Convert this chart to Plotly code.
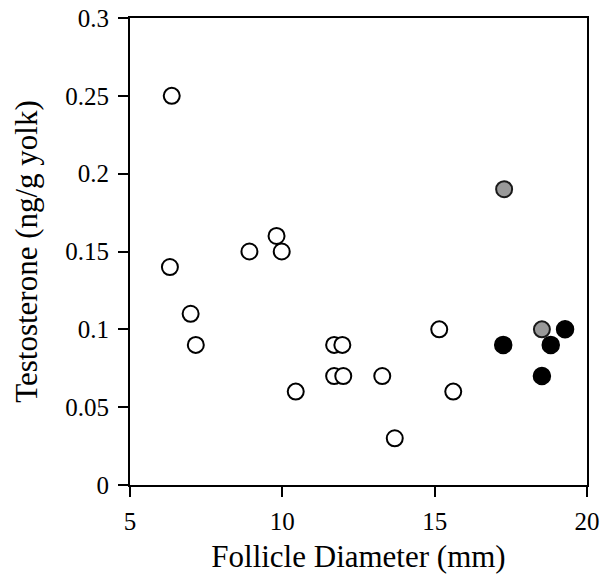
import plotly.graph_objects as go

# open circles
open_x = [6.37, 6.31, 6.99, 7.16, 8.92, 9.81, 9.98, 10.44, 11.70, 11.97, 11.70, 12.00,
          13.28, 13.69, 15.15, 15.61]
open_y = [0.25, 0.14, 0.11, 0.09, 0.15, 0.16, 0.15, 0.06, 0.09, 0.09, 0.07, 0.07,
          0.07, 0.03, 0.10, 0.06]

# grey circles
grey_x = [17.28, 18.52]
grey_y = [0.19, 0.10]

# black circles
black_x = [17.25, 18.81, 19.28, 18.52]
black_y = [0.09, 0.09, 0.10, 0.07]

x_ticks = [5, 10, 15, 20]
y_ticks = [0, 0.05, 0.1, 0.15, 0.2, 0.25, 0.3]
y_labels = ["0", "0.05", "0.1", "0.15", "0.2", "0.25", "0.3"]

font = "Liberation Serif, Times New Roman, serif"

fig = go.Figure()

fig.add_trace(go.Scatter(
    x=open_x, y=open_y, mode="markers",
    marker=dict(size=16, color="white", line=dict(color="black", width=2)),
    showlegend=False
))
fig.add_trace(go.Scatter(
    x=grey_x, y=grey_y, mode="markers",
    marker=dict(size=16, color="#999999", line=dict(color="#1a1a1a", width=2)),
    showlegend=False
))
fig.add_trace(go.Scatter(
    x=black_x, y=black_y, mode="markers",
    marker=dict(size=17, color="black", line=dict(color="black", width=1.5)),
    showlegend=False
))

fig.update_layout(
    width=604, height=579,
    margin=dict(l=130, r=17, t=18, b=94),
    plot_bgcolor="white",
    paper_bgcolor="white",
    font=dict(family=font, color="black", size=25),
)

fig.update_xaxes(
    range=[5, 20], tickvals=x_ticks, automargin=False,
    ticks="outside", ticklen=10, tickwidth=2, tickcolor="black",
    showline=True, linewidth=2, linecolor="black", mirror=True,
    showgrid=False, zeroline=False, ticklabelstandoff=3,
    tickfont=dict(family=font, size=25),
    title=dict(text="Follicle Diameter (mm)", font=dict(family=font, size=31), standoff=11),
)
fig.update_yaxes(
    range=[0, 0.3], tickvals=y_ticks, ticktext=y_labels, automargin=False,
    ticks="outside", ticklen=10, tickwidth=2, tickcolor="black",
    showline=True, linewidth=2, linecolor="black", mirror=True,
    showgrid=False, zeroline=False, ticklabelstandoff=4,
    tickfont=dict(family=font, size=25),
    title=dict(text="Testosterone (ng/g yolk)", font=dict(family=font, size=31), standoff=18),
)

# drop the browser's default body margin so the figure sits at the page corner
fig.write_html("out.html", config={"displayModeBar": False},
               post_script="document.body.style.margin = '0px';")
